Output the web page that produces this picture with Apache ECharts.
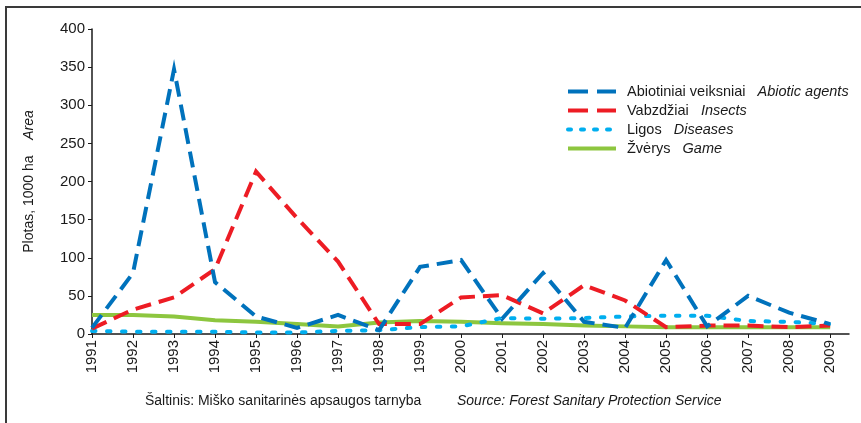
<!DOCTYPE html>
<html>
<head>
<meta charset="utf-8">
<script src="https://cdn.jsdelivr.net/npm/echarts@6/dist/echarts.min.js"></script>
<style>
html,body{margin:0;padding:0;background:#fff;}
#c{width:861px;height:423px;}
</style>
</head>
<body>
<div id="c"></div>
<script>
const years = [1991,1992,1993,1994,1995,1996,1997,1998,1999,2000,2001,2002,2003,2004,2005,2006,2007,2008,2009];
const abiotic  = [8, 80, 347, 68, 23, 8, 25, 5, 88, 97, 20, 80, 16, 8, 97, 10, 50, 28, 13];
const insects  = [7, 32, 48, 85, 213, 152, 95, 13, 13, 48, 51, 27, 64, 44, 9, 11, 11, 9, 11];
const diseases = [4, 3, 3, 3, 2, 2, 4, 5, 9, 10, 21, 20, 21, 23, 24, 24, 17, 16, 13];
const game     = [25, 25, 23, 18, 16, 13, 10, 15, 17, 16, 14, 13, 11, 10, 9, 9, 9, 9, 9];
const namesLt = ['Abiotiniai veiksniai', 'Vabzdžiai', 'Ligos', 'Žvėrys'];
const namesEn = ['Abiotic agents', 'Insects', 'Diseases', 'Game'];
const yTicks = [0, 50, 100, 150, 200, 250, 300, 350, 400];

const pairs = arr => years.map((y, i) => [y, arr[i]]);
const enOf = {};
namesLt.forEach((n, i) => enOf[n] = namesEn[i]);

const FONT = 'Liberation Sans, Arial, sans-serif';
const chart = echarts.init(document.getElementById('c'), null, {renderer: 'canvas'});

const styles = {};
styles[namesLt[0]] = {color: '#0072bc', type: [16, 8], cap: 'butt'};
styles[namesLt[1]] = {color: '#ed1c24', type: [16, 8], cap: 'butt'};
styles[namesLt[2]] = {color: '#00aeef', type: [3.5, 11.5], cap: 'round'};
styles[namesLt[3]] = {color: '#8dc63f', type: 'solid', cap: 'butt'};

function mk(name, data) {
  const s = styles[name];
  return {
    name: name, type: 'line', data: pairs(data), showSymbol: false, symbol: 'none',
    lineStyle: {color: s.color, width: 4, type: s.type, cap: s.cap, join: 'miter'},
    itemStyle: {color: s.color},
    animation: false
  };
}

chart.setOption({
  animation: false,
  backgroundColor: '#fff',
  textStyle: {fontFamily: FONT},
  graphic: [{
    type: 'polyline', silent: true,
    shape: {points: [[6, 423], [6, 7], [861, 7]]},
    style: {stroke: '#3a3a3a', lineWidth: 2, fill: null}
  }],
  title: [
    {text: 'Šaltinis: Miško sanitarinės apsaugos tarnyba', left: 140, top: 389,
     textStyle: {fontSize: 14, fontWeight: 'normal', color: '#1a1a1a', fontFamily: FONT}},
    {text: 'Source: Forest Sanitary Protection Service', left: 452, top: 389,
     textStyle: {fontSize: 14, fontWeight: 'normal', fontStyle: 'italic', color: '#1a1a1a', fontFamily: FONT}}
  ],
  legend: {
    orient: 'vertical', left: 561, top: 79,
    itemWidth: 48, itemHeight: 15, itemGap: 4,
    data: namesLt.map(n => ({
      name: n,
      itemStyle: {opacity: 0},
      lineStyle: {width: 4, color: styles[n].color,
        type: styles[n].type === 'solid' ? 'solid' : (styles[n].cap === 'round' ? [3, 10] : [20, 9]),
        cap: styles[n].cap}
    })),
    formatter: n => n + '   {i|' + enOf[n] + '}',
    textStyle: {fontSize: 14.5, lineHeight: 15, color: '#1a1a1a', fontFamily: FONT, padding: [0, 0, 0, 6],
      rich: {i: {fontStyle: 'italic', fontSize: 14.5, lineHeight: 15, color: '#1a1a1a', fontFamily: FONT}}}
  },
  grid: {left: 92, right: 12, top: 29, bottom: 89, containLabel: false},
  xAxis: {
    type: 'value', min: 1991, max: 2009.46,
    axisLine: {show: true, lineStyle: {color: '#1a1a1a', width: 1.5}},
    axisTick: {show: true, length: 4, inside: false, customValues: years, lineStyle: {color: '#1a1a1a'}},
    axisLabel: {customValues: years, rotate: 90, margin: 6, fontSize: 15, color: '#1a1a1a', fontFamily: FONT,
      formatter: v => String(v)},
    splitLine: {show: false}
  },
  yAxis: {
    type: 'value', min: 0, max: 400, interval: 50,
    name: 'Plotas, 1000 ha    {i|Area}', nameLocation: 'middle', nameRotate: 90, nameGap: 56,
    nameTextStyle: {fontSize: 14, color: '#1a1a1a', fontFamily: FONT,
      rich: {i: {fontStyle: 'italic', fontSize: 14, color: '#1a1a1a', fontFamily: FONT}}},
    axisLine: {show: true, lineStyle: {color: '#1a1a1a', width: 1.5}},
    axisTick: {show: true, length: 4, lineStyle: {color: '#1a1a1a'}},
    axisLabel: {fontSize: 15, color: '#1a1a1a', margin: 7, fontFamily: FONT},
    splitLine: {show: false}
  },
  series: [
    mk(namesLt[3], game),
    mk(namesLt[2], diseases),
    mk(namesLt[1], insects),
    mk(namesLt[0], abiotic)
  ]
});
</script>
</body>
</html>
